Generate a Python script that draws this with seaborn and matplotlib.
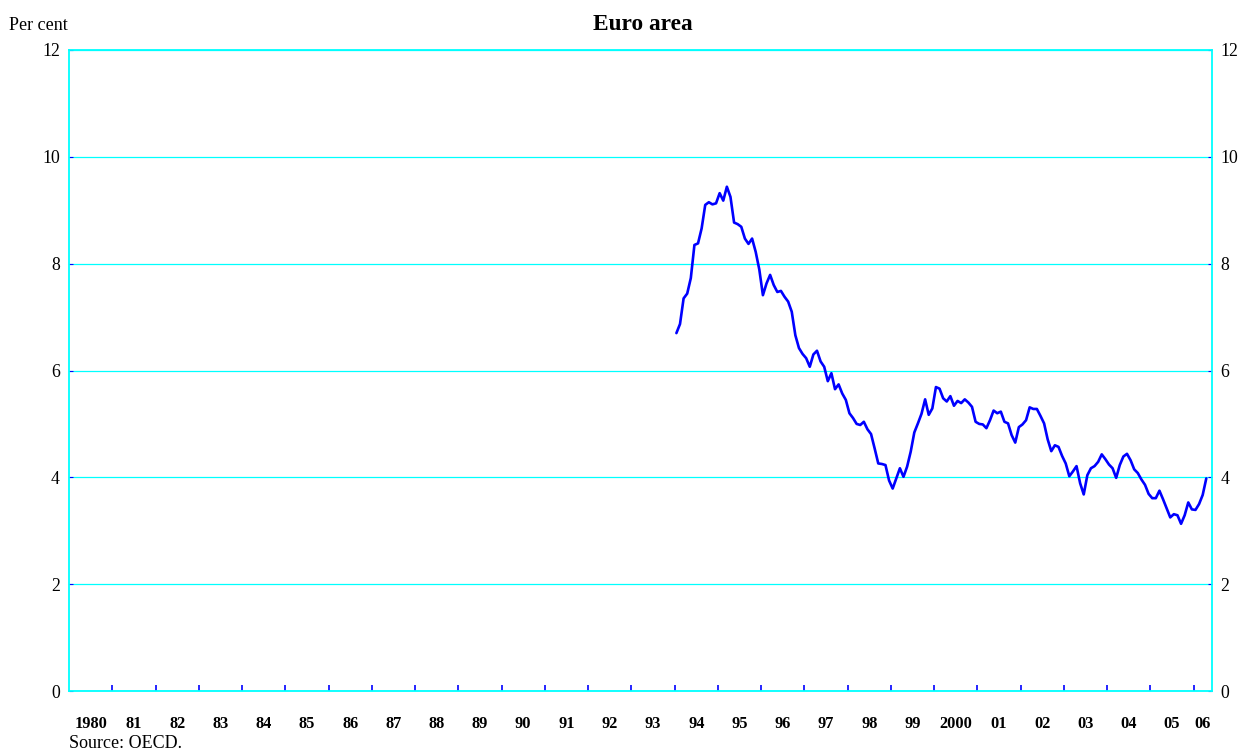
import numpy as np
import pandas as pd
import seaborn as sns
import matplotlib
matplotlib.use('Agg')
import matplotlib.pyplot as plt

sns.set_style("white")
plt.rcParams['font.family'] = ['Liberation Serif', 'DejaVu Serif']
plt.rcParams['text.color'] = 'black'
plt.rcParams['xtick.labelcolor'] = 'black'
plt.rcParams['ytick.labelcolor'] = 'black'

# monthly long-term rate, Jan 1994 .. Apr 2006 (per cent)
START_YEAR = 1994
rates = [
    6.70, 6.87, 7.35, 7.44, 7.73, 8.35, 8.38, 8.66, 9.10, 9.15, 9.11, 9.13,
    9.32, 9.18, 9.44, 9.25, 8.77, 8.74, 8.69, 8.47, 8.37, 8.47, 8.22, 7.89,
    7.41, 7.63, 7.79, 7.60, 7.47, 7.49, 7.38, 7.29, 7.10, 6.66, 6.42, 6.31,
    6.23, 6.07, 6.30, 6.37, 6.17, 6.07, 5.80, 5.95, 5.65, 5.74, 5.57, 5.45,
    5.20, 5.11, 5.00, 4.98, 5.04, 4.90, 4.81, 4.54, 4.26, 4.25, 4.23, 3.94,
    3.79, 3.98, 4.17, 4.01, 4.20, 4.48, 4.84, 5.01, 5.19, 5.46, 5.17, 5.29,
    5.69, 5.66, 5.48, 5.42, 5.52, 5.34, 5.43, 5.39, 5.46, 5.40, 5.32, 5.04,
    5.00, 4.99, 4.92, 5.07, 5.25, 5.20, 5.23, 5.04, 5.01, 4.79, 4.65, 4.94,
    4.99, 5.07, 5.31, 5.28, 5.28, 5.15, 5.01, 4.71, 4.49, 4.60, 4.57, 4.40,
    4.26, 4.02, 4.11, 4.21, 3.89, 3.68, 4.04, 4.17, 4.21, 4.29, 4.43, 4.34,
    4.24, 4.17, 3.99, 4.23, 4.39, 4.44, 4.32, 4.15, 4.08, 3.96, 3.86, 3.69,
    3.61, 3.61, 3.75, 3.59, 3.42, 3.25, 3.31, 3.29, 3.13, 3.29, 3.53, 3.40,
    3.39, 3.50, 3.67, 3.98,
]
year_labels = ['1980', '81', '82', '83', '84', '85', '86', '87', '88', '89',
               '90', '91', '92', '93', '94', '95', '96', '97', '98', '99',
               '2000', '01', '02', '03', '04', '05', '06']
y_ticks = [0, 2, 4, 6, 8, 10, 12]

df = pd.DataFrame({
    'date': START_YEAR + (np.arange(len(rates)) + 0.5) / 12,
    'rate': rates,
})

fig = plt.figure(figsize=(12.43, 7.53), dpi=100)
ax = fig.add_axes([69 / 1243, 1 - 691 / 753, (1211.7 - 69) / 1243, (691 - 50) / 753])

sns.lineplot(data=df, x='date', y='rate', ax=ax, color='#0000FF', linewidth=1.9)

ax.set_xlim(1980, 2006 + 5 / 12)
ax.set_ylim(0, 12)
ax.set_xlabel('')
ax.set_ylabel('')

# grid + frame in cyan
ax.set_yticks(y_ticks)
ax.yaxis.grid(True, color='#00FFFF', linewidth=0.9)
ax.set_axisbelow(True)
for sp in ax.spines.values():
    sp.set_color('#00FFFF')
    sp.set_linewidth(1.3)

ax.tick_params(axis='y', which='major', direction='in', length=3, color='#0000FF',
               left=True, right=True, labelleft=True, labelright=True,
               labelsize=12.8, pad=6.5)

# year boundaries as ticks, year names centred in between
ax.set_xticks(np.arange(1981, 2007))
ax.set_xticklabels([])
mid = [y + 0.5 for y in range(1980, 2006)] + [2006.2]
ax.set_xticks(mid, minor=True)
ax.set_xticklabels(year_labels, minor=True, fontweight='bold')
ax.tick_params(axis='x', which='major', direction='in', length=4, width=1.2,
               color='#0000FF', bottom=True)
ax.tick_params(axis='x', which='minor', length=0, bottom=True, labelsize=11.8, pad=18)

fig.text(643 / 1243, 1 - 24 / 753, 'Euro area', ha='center', va='center',
         fontsize=16.8, fontweight='bold')
fig.text(9 / 1243, 1 - 25 / 753, 'Per cent', ha='left', va='center', fontsize=13)
fig.text(69 / 1243, 1 - 744 / 753, 'Source: OECD.', ha='left', va='center', fontsize=13)

fig.savefig('out.png', dpi=100)
